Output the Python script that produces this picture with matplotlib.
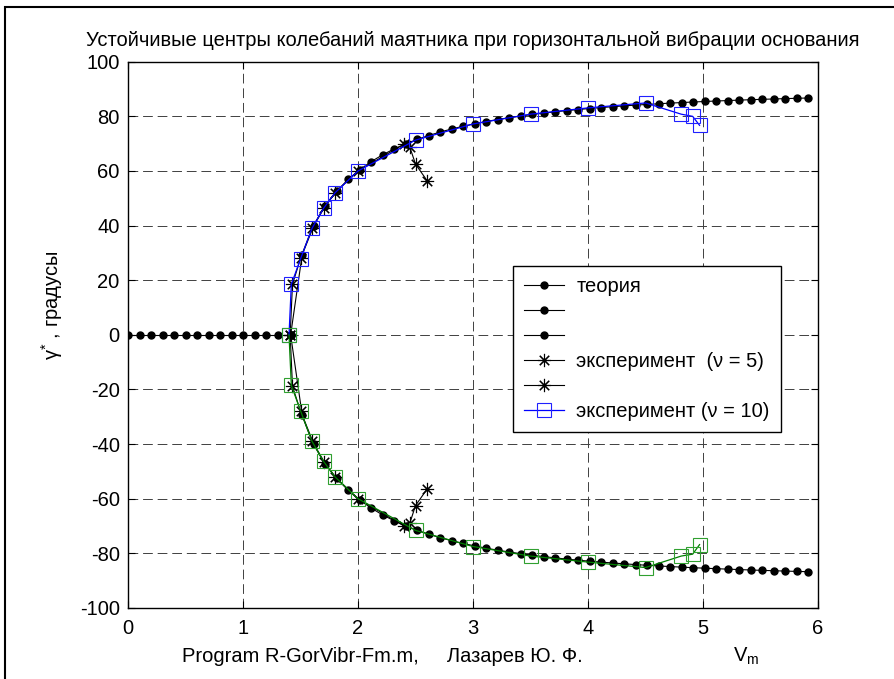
import matplotlib
matplotlib.use("Agg")
import matplotlib.pyplot as plt
from matplotlib.patches import Rectangle

plt.rcParams['font.family'] = ['Liberation Sans', 'DejaVu Sans']
plt.rcParams['mathtext.fontset'] = 'custom'
plt.rcParams['mathtext.rm'] = 'Liberation Sans'
plt.rcParams['mathtext.it'] = 'Liberation Sans'

# ---- data ----
# theory, zero branch
v_zero = [0.0, 0.1, 0.2, 0.3, 0.4, 0.5, 0.6, 0.7, 0.8, 0.9, 1.0, 1.1, 1.2, 1.3, 1.4142]
g_zero = [0.0] * 15

# theory, non-zero branch (upper; lower is its mirror)
v_theory = [1.4142, 1.5142, 1.6142, 1.7142, 1.8142, 1.9142, 2.0142, 2.1142, 2.2142, 2.3142,
            2.4142, 2.5142, 2.6142, 2.7142, 2.8142, 2.9142, 3.0142, 3.1142, 3.2142, 3.3142,
            3.4142, 3.5142, 3.6142, 3.7142, 3.8142, 3.9142, 4.0142, 4.1142, 4.2142, 4.3142,
            4.4142, 4.5142, 4.6142, 4.7142, 4.8142, 4.9142, 5.0142, 5.1142, 5.2142, 5.3142,
            5.4142, 5.5142, 5.6142, 5.7142, 5.8142, 5.9142]
g_theory_up = [0.0, 29.28, 39.86, 47.11, 52.58, 56.92, 60.46, 63.42, 65.93, 68.07,
               69.93, 71.55, 72.98, 74.25, 75.37, 76.38, 77.28, 78.10, 78.84, 79.51,
               80.12, 80.68, 81.19, 81.66, 82.10, 82.50, 82.87, 83.21, 83.53, 83.83,
               84.11, 84.37, 84.61, 84.84, 85.05, 85.25, 85.44, 85.61, 85.78, 85.94,
               86.09, 86.23, 86.36, 86.49, 86.61, 86.72]
g_theory_dn = [-0.0, -29.28, -39.86, -47.11, -52.58, -56.92, -60.46, -63.42, -65.93, -68.07,
               -69.93, -71.55, -72.98, -74.25, -75.37, -76.38, -77.28, -78.10, -78.84, -79.51,
               -80.12, -80.68, -81.19, -81.66, -82.10, -82.50, -82.87, -83.21, -83.53, -83.83,
               -84.11, -84.37, -84.61, -84.84, -85.05, -85.25, -85.44, -85.61, -85.78, -85.94,
               -86.09, -86.23, -86.36, -86.49, -86.61, -86.72]

# experiment, nu = 5
v_exp5 = [1.41, 1.43, 1.50, 1.60, 1.70, 1.80, 2.00, 2.40, 2.45, 2.50, 2.60]
g_exp5_up = [0.0, 18.5, 28.0, 39.0, 46.5, 52.0, 60.0, 69.8, 68.8, 62.5, 56.5]
g_exp5_dn = [0.0, -18.8, -28.0, -39.0, -46.5, -52.0, -60.0, -70.0, -69.0, -62.5, -56.5]

# experiment, nu = 10
v_exp10 = [1.40, 1.42, 1.50, 1.60, 1.70, 1.80, 2.00, 2.50, 3.00, 3.50, 4.00, 4.50, 4.81, 4.91, 4.97]
g_exp10_up = [0.0, 18.5, 27.8, 39.0, 46.3, 52.0, 60.0, 71.3, 77.2, 80.8, 83.1, 84.9, 80.8, 80.0, 76.7]
g_exp10_dn = [0.0, -18.5, -27.8, -39.0, -46.3, -52.0, -60.0, -71.6, -77.5, -81.0, -83.2, -85.2, -81.0, -80.3, -76.8]

legend_labels = ['теория', ' ', ' ', 'эксперимент  (ν = 5)', ' ', 'эксперимент (ν = 10)']

x_ticks = [0, 1, 2, 3, 4, 5, 6]
y_ticks = [-100, -80, -60, -40, -20, 0, 20, 40, 60, 80, 100]

FS = 14.5

# ---- figure ----
fig = plt.figure(figsize=(8.94, 6.79), dpi=100)
ax = fig.add_axes([0.1432, 0.1046, 0.7718, 0.8045])

th_kw = dict(color='black', lw=0.8, marker='o', ms=5.0, mfc='black', mec='black')
h1, = ax.plot(v_zero, g_zero, **th_kw)
h2, = ax.plot(v_theory, g_theory_up, **th_kw)
h3, = ax.plot(v_theory, g_theory_dn, **th_kw)

star = (8, 2, 0)
h4, = ax.plot(v_exp5, g_exp5_up, color='black', lw=0.8, marker=star, ms=9.5, mew=0.8)
h5, = ax.plot(v_exp5, g_exp5_dn, color='black', lw=0.8, marker=star, ms=9.5, mew=0.8)

h6, = ax.plot(v_exp10, g_exp10_up, color='#0000ff', lw=0.9, marker='s', ms=9.5,
              mfc='none', mec='#2020ff', mew=0.8)
h7, = ax.plot(v_exp10, g_exp10_dn, color='#007f00', lw=0.9, marker='s', ms=9.5,
              mfc='none', mec='#30a030', mew=0.8)

ax.set_xlim(0, 6)
ax.set_ylim(-100, 100)
ax.set_xticks(x_ticks)
ax.set_yticks(y_ticks)
ax.set_xticklabels([str(t) for t in x_ticks])
ax.set_yticklabels([str(t) for t in y_ticks])
ax.tick_params(direction='in', length=5, width=0.8, top=True, right=True,
               labelsize=FS, colors='black')
ax.tick_params(axis='y', pad=6)
ax.tick_params(axis='x', pad=8)
for s in ax.spines.values():
    s.set_linewidth(1.0)
    s.set_color('black')

ax.grid(True, color='0.25', lw=0.7, linestyle=(0, (10, 5)))
ax.set_axisbelow(True)

ax.set_title('Устойчивые центры колебаний маятника при горизонтальной вибрации основания',
             fontsize=FS, pad=11)

leg = ax.legend([h1, h2, h3, h4, h5, h6], legend_labels,
                loc='upper left', bbox_to_anchor=(0.558, 0.626), fontsize=FS,
                frameon=True, fancybox=False, edgecolor='black', framealpha=1,
                handlelength=2.0, handletextpad=0.6, labelspacing=0.3,
                borderpad=0.55, borderaxespad=0)
leg.get_frame().set_linewidth(1.0)

fig.text(0.058, 0.551, 'γ$^{*}$ , градусы', rotation=90, ha='center', va='center', fontsize=FS)
fig.text(0.204, 0.033, 'Program R-GorVibr-Fm.m,     Лазарев Ю. Ф.', ha='left', va='center', fontsize=FS)
fig.text(0.820, 0.033, 'V$_\\mathrm{m}$', ha='left', va='center', fontsize=FS)

# outer frame of the figure window
fig.patches.append(Rectangle((0.006, -0.01), 1.5, 1.0, transform=fig.transFigure,
                             fill=False, edgecolor='black', lw=1.5))

fig.savefig('out.png', dpi=100)
